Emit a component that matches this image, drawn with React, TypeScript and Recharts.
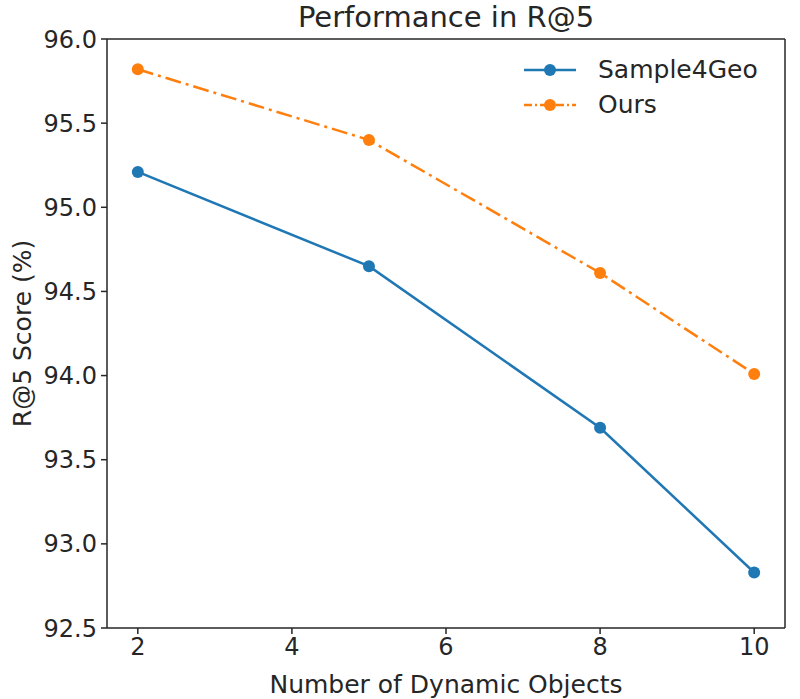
import { Label, Line, LineChart, ReferenceLine, XAxis, YAxis } from "recharts"

const objects = [2, 5, 8, 10]
const sample4geo = [95.21, 94.65, 93.69, 92.83]
const ours = [95.82, 95.4, 94.61, 94.01]
const xTicks = [2, 4, 6, 8, 10]
const yTicks = [92.5, 93.0, 93.5, 94.0, 94.5, 95.0, 95.5, 96.0]

const BLUE = "#1f77b4"
const ORANGE = "#ff7f0e"
const FONT = "'DejaVu Sans', sans-serif"
const INK = "#262626"

const data = objects.map((n, i) => ({ n, s4g: sample4geo[i], ours: ours[i] }))

const legendItems = [
  { name: "Sample4Geo", color: BLUE, dash: undefined },
  { name: "Ours", color: ORANGE, dash: "8 3 2 3" },
]

function LegendBox() {
  return (
    <div
      style={{
        position: "absolute",
        top: 52,
        left: 522,
        fontFamily: FONT,
        fontSize: 25,
        color: INK,
      }}
    >
      {legendItems.map((it) => (
        <div key={it.name} style={{ display: "flex", alignItems: "center", height: 35 }}>
          <svg width={56} height={20} style={{ marginRight: 20 }}>
            <line x1={2} y1={10} x2={54} y2={10} stroke={it.color} strokeWidth={2.5} strokeDasharray={it.dash} />
            <circle cx={28} cy={10} r={6} fill={it.color} />
          </svg>
          <span>{it.name}</span>
        </div>
      ))}
    </div>
  )
}

function YLabel(props: any) {
  const vb = props.viewBox
  const cy = vb.y + vb.height / 2
  return (
    <text
      x={22}
      y={cy}
      transform={`rotate(-90, 22, ${cy})`}
      textAnchor="middle"
      dominantBaseline="central"
      fontFamily={FONT}
      fontSize={25}
      fill={INK}
    >
      R@5 Score (%)
    </text>
  )
}

export default function App() {
  return (
    <div style={{ position: "absolute", left: 0, top: 0, width: 800, height: 699, background: "#fff" }}>
      <div
        style={{
          position: "absolute",
          left: 107,
          width: 678,
          top: 0,
          textAlign: "center",
          fontFamily: FONT,
          fontSize: 29,
          lineHeight: "34px",
          color: INK,
        }}
      >
        Performance in R@5
      </div>
      <LineChart width={800} height={699} data={data} margin={{ top: 39, right: 15, left: 0, bottom: 0 }}>
        <XAxis
          dataKey="n"
          type="number"
          domain={[1.6, 10.4]}
          ticks={xTicks}
          height={71}
          stroke={INK}
          strokeWidth={1.5}
          tickSize={6}
          tick={{ fontFamily: FONT, fontSize: 24, fill: INK }}
          tickMargin={4}
          allowDataOverflow
        >
          <Label
            value="Number of Dynamic Objects"
            position="insideBottom"
            offset={6}
            style={{ fontFamily: FONT, fontSize: 25, fill: INK }}
          />
        </XAxis>
        <YAxis
          type="number"
          domain={[92.5, 96.0]}
          ticks={yTicks}
          width={107}
          stroke={INK}
          strokeWidth={1.5}
          tickSize={6}
          tickMargin={4}
          tickFormatter={(v: number) => v.toFixed(1)}
          tick={{ fontFamily: FONT, fontSize: 24, fill: INK }}
          label={<YLabel />}
          allowDataOverflow
        />
        <ReferenceLine y={96.0} stroke={INK} strokeWidth={1.5} ifOverflow="visible" />
        <ReferenceLine x={10.4} stroke={INK} strokeWidth={1.5} ifOverflow="visible" />
        <Line
          dataKey="s4g"
          name="Sample4Geo"
          stroke={BLUE}
          strokeWidth={2.5}
          dot={{ r: 6, fill: BLUE, stroke: BLUE, strokeWidth: 0 }}
          isAnimationActive={false}
        />
        <Line
          dataKey="ours"
          name="Ours"
          stroke={ORANGE}
          strokeWidth={2.5}
          strokeDasharray="16 5 3 5"
          dot={{ r: 6, fill: ORANGE, stroke: ORANGE, strokeWidth: 0, strokeDasharray: "0" }}
          isAnimationActive={false}
        />
      </LineChart>
      <LegendBox />
    </div>
  )
}
